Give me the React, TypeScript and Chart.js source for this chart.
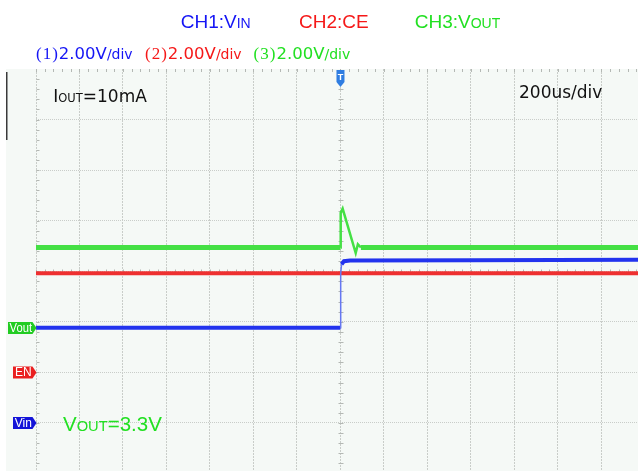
import React, { useEffect, useRef } from "react";
import { Chart, registerables } from "chart.js";

Chart.register(...registerables);

// ---- scope settings ----
const TIME_PER_DIV_US = 200; // 200us/div
const VOLT_PER_DIV = 2; // 2.00V/div on all channels
const X_GRID_US = [-1400, -1200, -1000, -800, -600, -400, -200, 0, 200, 400, 600, 800, 1000, 1200];
const Y_GRID_DIV = [-3, -2, -1, 0, 1, 2, 3];
const X_MIN_US = -1400;
const X_MAX_US = 1368;
const Y_MIN_DIV = -3.95;
const Y_MAX_DIV = 4;

// channel ground offsets (divisions from screen centre)
const VIN_OFFSET_DIV = -3.0;
const CE_OFFSET_DIV = -2.0;
const VOUT_OFFSET_DIV = -1.12;

// ---- traces (time in us, value in volts) ----
const VIN_T = [-1400, 0, 1, 5, 16, 44, 600, 1368];
const VIN_V = [3.77, 3.77, 5.9, 6.28, 6.4, 6.43, 6.44, 6.46];

const CE_T = [-1400, 1368];
const CE_V = [3.92, 3.92];

const VOUT_T = [-1400, 0, 1, 10, 70, 80, 94, 1368];
const VOUT_V = [3.18, 3.18, 4.55, 4.72, 2.96, 3.31, 3.18, 3.18];

const COLORS = {
  vin: "#2233ee",
  vinEdge: "#6677f2",
  ce: "#ee3030",
  vout: "#44e044",
  bg: "#f5f9f6",
  grid: "#c9cdc9",
  tick: "#b4b8b4",
};

const toDiv = (v: number, off: number) => v / VOLT_PER_DIV + off;
const build = (t: number[], v: number[], off: number) => t.map((x, i) => ({ x, y: toDiv(v[i], off) }));

const steep = (ctx: any, k: number) => {
  const dx = Math.abs(ctx.p1.x - ctx.p0.x);
  const dy = Math.abs(ctx.p1.y - ctx.p0.y);
  return dy > dx * k;
};

const SCREEN_LEFT = 6; // start of the scope screen, left of the graticule

const scopePlugin = {
  id: "scope",
  beforeDraw(chart: any) {
    const { ctx, chartArea: a } = chart;
    ctx.save();
    ctx.fillStyle = COLORS.bg;
    ctx.fillRect(SCREEN_LEFT, a.top, a.right - SCREEN_LEFT, a.bottom - a.top);
    ctx.restore();
  },
  beforeDatasetsDraw(chart: any) {
    const { ctx, chartArea: a } = chart;
    const xs = chart.scales.x;
    const ys = chart.scales.y;
    ctx.save();
    ctx.strokeStyle = COLORS.tick;
    ctx.lineWidth = 1;
    const leftX = Math.round(xs.getPixelForValue(X_GRID_US[0])) + 0.5;
    const cx = Math.round(xs.getPixelForValue(0)) + 0.5;
    const cy = Math.round(ys.getPixelForValue(0)) + 0.5;
    ctx.beginPath();
    for (let d = Math.ceil(Y_MIN_DIV * 5) / 5; d <= Y_MAX_DIV; d += 0.2) {
      const y = Math.round(ys.getPixelForValue(d)) + 0.5;
      ctx.moveTo(leftX, y);
      ctx.lineTo(leftX + 3, y);
      ctx.moveTo(cx - 2, y);
      ctx.lineTo(cx + 3, y);
    }
    const step = TIME_PER_DIV_US / 5;
    for (let t = X_GRID_US[0]; t <= X_MAX_US; t += step) {
      const x = Math.round(xs.getPixelForValue(t)) + 0.5;
      ctx.moveTo(x, a.top);
      ctx.lineTo(x, a.top + 3);
      ctx.moveTo(x, cy - 2);
      ctx.lineTo(x, cy + 3);
    }
    ctx.stroke();
    // scroll indicator at left edge of the screen
    ctx.fillStyle = "#3a3a3a";
    ctx.fillRect(SCREEN_LEFT, a.top + 3, 1.5, 68);
    ctx.restore();
  },
  afterDatasetsDraw(chart: any) {
    const { ctx, chartArea: a } = chart;
    const xs = chart.scales.x;
    const ys = chart.scales.y;
    ctx.save();
    // trigger marker
    const tx = xs.getPixelForValue(0);
    ctx.fillStyle = "#2f7de1";
    ctx.beginPath();
    ctx.moveTo(tx - 4, a.top + 1);
    ctx.lineTo(tx + 4, a.top + 1);
    ctx.lineTo(tx + 4, a.top + 13);
    ctx.lineTo(tx, a.top + 18);
    ctx.lineTo(tx - 4, a.top + 13);
    ctx.closePath();
    ctx.fill();
    ctx.fillStyle = "#ffffff";
    ctx.font = "bold 9px 'Liberation Sans'";
    ctx.textAlign = "center";
    ctx.textBaseline = "middle";
    ctx.fillText("T", tx, a.top + 8.5);

    // channel ground tags
    const tag = (text: string, color: string, off: number, left: number) => {
      const y = ys.getPixelForValue(off);
      const right = xs.getPixelForValue(X_GRID_US[0]) + 0.5;
      ctx.fillStyle = color;
      ctx.beginPath();
      ctx.moveTo(left, y - 6);
      ctx.lineTo(right - 4, y - 6);
      ctx.lineTo(right, y);
      ctx.lineTo(right - 4, y + 6);
      ctx.lineTo(left, y + 6);
      ctx.closePath();
      ctx.fill();
      ctx.fillStyle = "#ffffff";
      ctx.font = "12px 'Liberation Sans'";
      ctx.textAlign = "center";
      ctx.textBaseline = "middle";
      ctx.fillText(text, (left + right - 3) / 2, y + 0.5, right - left - 6);
    };
    tag("Vout", "#22cc22", VOUT_OFFSET_DIV, 8);
    tag("EN", "#ea2020", CE_OFFSET_DIV, 13);
    tag("Vin", "#1414d8", VIN_OFFSET_DIV, 13);
    ctx.restore();
  },
};

const abs = (left: number, top: number, extra: any = {}) => ({
  position: "absolute" as const,
  left,
  top,
  lineHeight: 0,
  whiteSpace: "nowrap" as const,
  ...extra,
});

const SANS = "'Liberation Sans', Arial, sans-serif";
const DEJAVU = "'DejaVu Sans', sans-serif";
const SERIF = "'Liberation Serif', serif";

const TXT_BLUE = "#1515f5";
const TXT_RED = "#f51818";
const TXT_GREEN = "#22e022";

function Scale({ left, color, n }: { left: number; color: string; n: string }) {
  return (
    <div style={abs(left, 54.3, { fontFamily: DEJAVU, fontSize: 16.5, color })}>
      <span style={{ fontFamily: SERIF, fontSize: 17, letterSpacing: 1 }}>({n})</span>
      2.00V<span style={{ fontSize: 14 }}>/div</span>
    </div>
  );
}

export default function App() {
  const ref = useRef<HTMLCanvasElement | null>(null);
  useEffect(() => {
    if (!ref.current) return;
    const chart = new Chart(ref.current, {
      type: "line",
      data: {
        datasets: [
          {
            label: "CH1:VIN",
            data: build(VIN_T, VIN_V, VIN_OFFSET_DIV),
            borderColor: COLORS.vin,
            borderWidth: 4,
            pointRadius: 0,
            tension: 0,
            segment: {
              borderWidth: (c: any) => (steep(c, 4) ? 1.5 : 4),
              borderColor: (c: any) => (steep(c, 4) ? COLORS.vinEdge : COLORS.vin),
            },
          },
          {
            label: "CH2:CE",
            data: build(CE_T, CE_V, CE_OFFSET_DIV),
            borderColor: COLORS.ce,
            borderWidth: 4,
            pointRadius: 0,
            tension: 0,
          },
          {
            label: "CH3:VOUT",
            data: build(VOUT_T, VOUT_V, VOUT_OFFSET_DIV),
            borderColor: COLORS.vout,
            borderWidth: 5,
            pointRadius: 0,
            tension: 0,
            segment: {
              borderWidth: (c: any) => (steep(c, 1) ? 2.5 : 5),
            },
          },
        ],
      },
      options: {
        animation: false,
        responsive: false,
        devicePixelRatio: 1,
        parsing: false as any,
        layout: { padding: { left: 36, top: 69, right: 0, bottom: 0 } },
        plugins: { legend: { display: false }, tooltip: { enabled: false }, title: { display: false } },
        scales: {
          x: {
            type: "linear",
            min: X_MIN_US,
            max: X_MAX_US,
            afterBuildTicks: (s: any) => {
              s.ticks = X_GRID_US.map((v) => ({ value: v }));
            },
            ticks: { display: false },
            grid: { color: COLORS.grid, lineWidth: 1, drawTicks: false },
            border: { display: false, dash: [2, 1] },
          },
          y: {
            type: "linear",
            min: Y_MIN_DIV,
            max: Y_MAX_DIV,
            afterBuildTicks: (s: any) => {
              s.ticks = Y_GRID_DIV.map((v) => ({ value: v }));
            },
            ticks: { display: false },
            grid: { color: COLORS.grid, lineWidth: 1, drawTicks: false },
            border: { display: false, dash: [1, 1] },
          },
        },
      },
      plugins: [scopePlugin],
    });
    return () => chart.destroy();
  }, []);

  return (
    <div style={{ position: "absolute", left: 0, top: 0, width: 638, height: 471, background: "#fff", overflow: "hidden" }}>
      <canvas ref={ref} width={638} height={471} style={{ position: "absolute", left: 0, top: 0, width: 638, height: 471 }} />
      <div style={abs(180.7, 22.4, { fontFamily: SANS, fontSize: 19, color: TXT_BLUE })}>
        CH1:V<span style={{ fontSize: 14 }}>IN</span>
      </div>
      <div style={abs(299, 22.4, { fontFamily: SANS, fontSize: 19, color: TXT_RED })}>CH2:CE</div>
      <div style={abs(414.7, 22.4, { fontFamily: SANS, fontSize: 19, color: TXT_GREEN })}>
        CH3:V<span style={{ fontSize: 14 }}>OUT</span>
      </div>
      <Scale left={36} color={TXT_BLUE} n="1" />
      <Scale left={145} color={TXT_RED} n="2" />
      <Scale left={253.6} color={TXT_GREEN} n="3" />
      <div style={abs(53.3, 95.8, { fontFamily: DEJAVU, fontSize: 17, color: "#111" })}>
        I<span style={{ fontSize: 11.5 }}>OUT</span>=10mA
      </div>
      <div style={abs(519, 92.4, { fontFamily: DEJAVU, fontSize: 17, color: "#111" })}>200us/div</div>
      <div style={abs(63, 423.6, { fontFamily: SANS, fontSize: 20.5, color: TXT_GREEN })}>
        V<span style={{ fontSize: 14.7 }}>OUT</span>=3.3V
      </div>
    </div>
  );
}
